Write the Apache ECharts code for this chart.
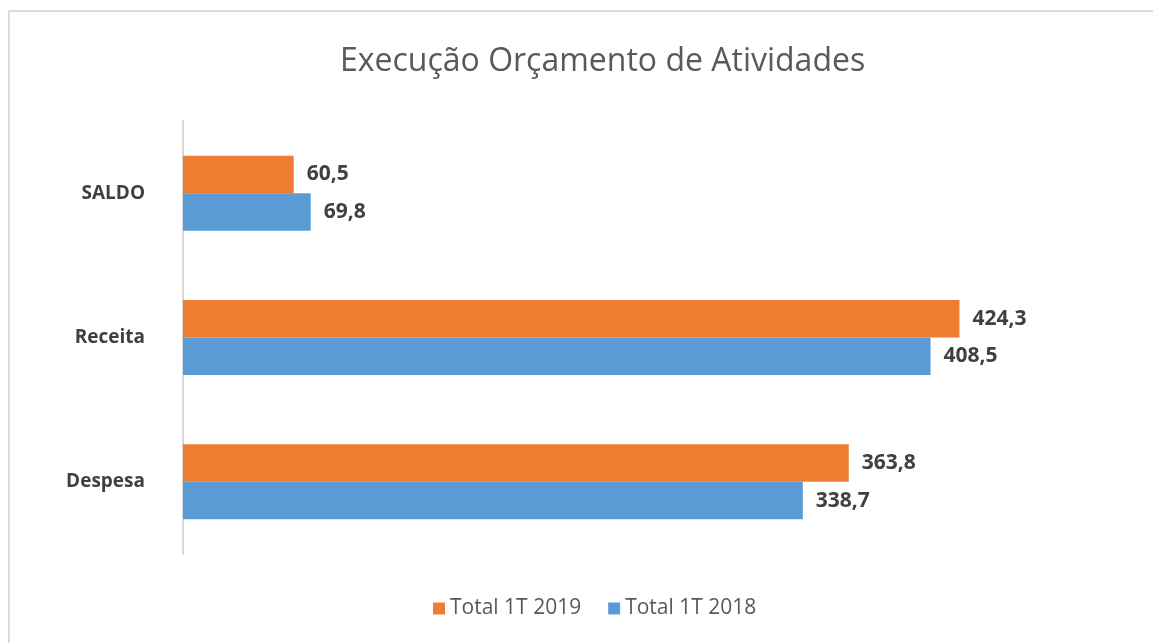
<!DOCTYPE html>
<html>
<head>
<meta charset="utf-8">
<script src="https://cdn.jsdelivr.net/npm/echarts@6/dist/echarts.min.js"></script>
<style>
  html, body { margin: 0; padding: 0; background: #fff; }
  #frame {
    position: absolute; left: 8px; top: 10px; right: -4px; bottom: -4px;
    border-left: 2px solid #dcdcdc; border-top: 2px solid #dcdcdc;
  }
  #chart { position: absolute; left: 0; top: 0; width: 1153px; height: 643px; }
</style>
</head>
<body>
<div id="frame"></div>
<div id="chart"></div>
<script>
// Data
const categories = ['SALDO', 'Receita', 'Despesa'];
const total2019 = [60.5, 424.3, 363.8];
const total2018 = [69.8, 408.5, 338.7];
const seriesNames = ['Total 1T 2019', 'Total 1T 2018'];

const chart = echarts.init(document.getElementById('chart'));

const labelStyle = {
  show: true,
  position: 'right',
  distance: 13,
  fontFamily: 'Open Sans',
  fontWeight: 'bold',
  fontSize: 21,
  color: '#404040',
  formatter: p => p.value.toFixed(1).replace('.', ',')
};

chart.setOption({
  backgroundColor: 'transparent',
  title: {
    text: 'Execução Orçamento de Atividades',
    left: 335,
    top: 41,
    textStyle: {
      fontFamily: 'Open Sans',
      fontWeight: 'normal',
      fontSize: 32,
      color: '#595959'
    }
  },
  legend: {
    bottom: 19,
    left: 428,
    itemWidth: 12,
    itemHeight: 12,
    itemGap: 27,
    icon: 'rect',
    textStyle: { fontFamily: 'Open Sans', fontSize: 21, color: '#595959' },
    data: seriesNames
  },
  grid: {
    left: 183,
    right: 1153 - 1098,
    top: 121,
    bottom: 643 - 554,
    containLabel: false
  },
  xAxis: {
    type: 'value',
    min: 0,
    max: 500,
    show: false
  },
  yAxis: {
    type: 'category',
    data: categories,
    inverse: true,
    axisLine: { show: true, lineStyle: { color: '#d9d9d9', width: 2 } },
    axisTick: { show: false },
    axisLabel: {
      margin: 38,
      fontFamily: 'Open Sans',
      fontWeight: 'bold',
      fontSize: 19,
      color: '#404040'
    }
  },
  series: [
    {
      name: seriesNames[0],
      type: 'bar',
      data: total2019,
      barGap: '0%',
      barCategoryGap: '48%',
      itemStyle: { color: '#ed7d31' },
      label: labelStyle
    },
    {
      name: seriesNames[1],
      type: 'bar',
      data: total2018,
      barGap: '0%',
      barCategoryGap: '48%',
      itemStyle: { color: '#5b9bd5' },
      label: labelStyle
    }
  ]
});
</script>
</body>
</html>
